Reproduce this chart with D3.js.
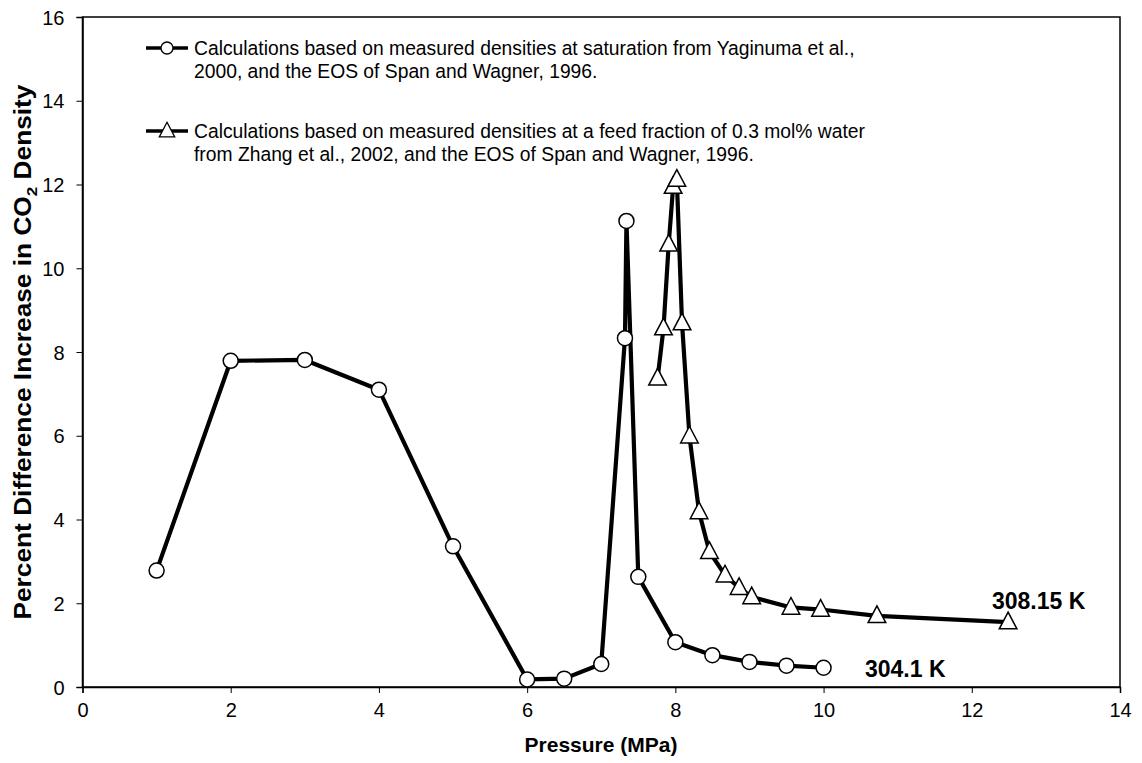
<!DOCTYPE html>
<html><head><meta charset="utf-8">
<script src="https://cdn.jsdelivr.net/npm/d3@7"></script>
<style>body{margin:0;background:#fff}svg{display:block}text{font-family:"Liberation Sans",Arial,sans-serif}</style>
</head><body>
<svg id="c" width="1142" height="763"></svg>
<script>
// Data
const satPressure = [1, 2, 3, 4, 5, 6, 6.5, 7, 7.32, 7.34, 7.5, 8, 8.5, 9, 9.5, 10];
const satValues   = [2.78, 7.79, 7.81, 7.1, 3.36, 0.18, 0.2, 0.55, 8.33, 11.13, 2.63, 1.07, 0.76, 0.6, 0.51, 0.46];
const feedPressure = [7.76, 7.84, 7.91, 7.97, 8.02, 8.09, 8.19, 8.32, 8.46, 8.67, 8.86, 9.03, 9.56, 9.96, 10.72, 12.49];
const feedValues   = [7.37, 8.57, 10.57, 11.95, 12.12, 8.69, 5.99, 4.18, 3.23, 2.67, 2.37, 2.15, 1.9, 1.85, 1.7, 1.55];
const xTicks = [0, 2, 4, 6, 8, 10, 12, 14];
const yTicks = [0, 2, 4, 6, 8, 10, 12, 14, 16];
const legendLines = [
  ["Calculations based on measured densities at saturation from Yaginuma et al.,", "2000, and the EOS of Span and Wagner, 1996."],
  ["Calculations based on measured densities at a feed fraction of 0.3 mol% water", "from Zhang et al., 2002, and the EOS of Span and Wagner, 1996."]
];
const seriesLabels = ["304.1 K", "308.15 K"];

const svg = d3.select("#c");
const x = d3.scaleLinear().domain([0, 14]).range([82.5, 1120]);
const y = d3.scaleLinear().domain([0, 16]).range([687, 17]);

// frame
svg.append("rect").attr("x", x(0)).attr("y", y(16)).attr("width", x(14) - x(0)).attr("height", y(0) - y(16))
  .attr("fill", "none").attr("stroke", "#000").attr("stroke-width", 1.5);

const xAxis = svg.append("g").attr("transform", `translate(0,${y(0)})`)
  .call(d3.axisBottom(x).tickValues(xTicks).tickSize(6).tickPadding(10).tickFormat(d3.format("d")));
const yAxis = svg.append("g").attr("transform", `translate(${x(0)},0)`)
  .call(d3.axisLeft(y).tickValues(yTicks).tickSize(6).tickPadding(12).tickFormat(d3.format("d")));
[xAxis, yAxis].forEach(a => {
  a.select(".domain").attr("stroke", "#000").attr("stroke-width", 1.5);
  a.selectAll(".tick line").attr("stroke", "#000").attr("stroke-width", 1);
  a.selectAll(".tick text").attr("font-size", 20).attr("fill", "#000").style("font-family", '"Liberation Sans",Arial,sans-serif');
});
yAxis.selectAll(".tick text").attr("dy", "0.36em");

// axis titles
svg.append("text").attr("x", 601).attr("y", 752).attr("text-anchor", "middle")
  .attr("font-size", 21).attr("font-weight", "bold").text("Pressure (MPa)");
const yt = svg.append("text").attr("transform", `translate(31,352) rotate(-90)`)
  .attr("text-anchor", "middle").attr("font-size", 23).attr("font-weight", "bold")
  .attr("textLength", 535).attr("lengthAdjust", "spacingAndGlyphs");
yt.append("tspan").text("Percent Difference Increase in CO");
yt.append("tspan").attr("font-size", 15).attr("dy", 6).text("2");
yt.append("tspan").attr("dy", -6).text(" Density");

const line = d3.line().x(d => x(d[0])).y(d => y(d[1]));
const sat = satPressure.map((p, i) => [p, satValues[i]]);
const feed = feedPressure.map((p, i) => [p, feedValues[i]]);

function tri(cx, cy, s) {
  return `M${cx},${cy - s * 0.62}L${cx + s * 0.55},${cy + s * 0.42}L${cx - s * 0.55},${cy + s * 0.42}Z`;
}

svg.append("path").datum(sat).attr("d", line).attr("fill", "none").attr("stroke", "#000").attr("stroke-width", 4.2).attr("stroke-linejoin", "round");
svg.append("path").datum(feed).attr("d", line).attr("fill", "none").attr("stroke", "#000").attr("stroke-width", 4.2).attr("stroke-linejoin", "round");

svg.selectAll(".c").data(sat).enter().append("circle").attr("cx", d => x(d[0])).attr("cy", d => y(d[1])).attr("r", 7.5)
  .attr("fill", "#fff").attr("stroke", "#000").attr("stroke-width", 1.5);
svg.selectAll(".t").data(feed).enter().append("path").attr("d", d => tri(x(d[0]), y(d[1]), 16))
  .attr("fill", "#fff").attr("stroke", "#000").attr("stroke-width", 1.5);

// legend
const legY = [48, 131];
legY.forEach((ly, i) => {
  svg.append("line").attr("x1", 146).attr("x2", 188).attr("y1", ly).attr("y2", ly).attr("stroke", "#000").attr("stroke-width", 3.5);
  if (i === 0) svg.append("circle").attr("cx", 167).attr("cy", ly).attr("r", 6).attr("fill", "#fff").attr("stroke", "#000").attr("stroke-width", 1.3);
  else svg.append("path").attr("d", tri(167, ly, 14)).attr("fill", "#fff").attr("stroke", "#000").attr("stroke-width", 1.3);
  legendLines[i].forEach((t, j) => {
    svg.append("text").attr("x", 194).attr("y", ly + 7 + j * 23).attr("font-size", 19.3).text(t);
  });
});

// series labels
svg.append("text").attr("x", 865).attr("y", 677).attr("font-size", 23).attr("font-weight", "bold").text(seriesLabels[0]);
svg.append("text").attr("x", 992).attr("y", 609).attr("font-size", 23).attr("font-weight", "bold").text(seriesLabels[1]);
</script>
</body></html>
